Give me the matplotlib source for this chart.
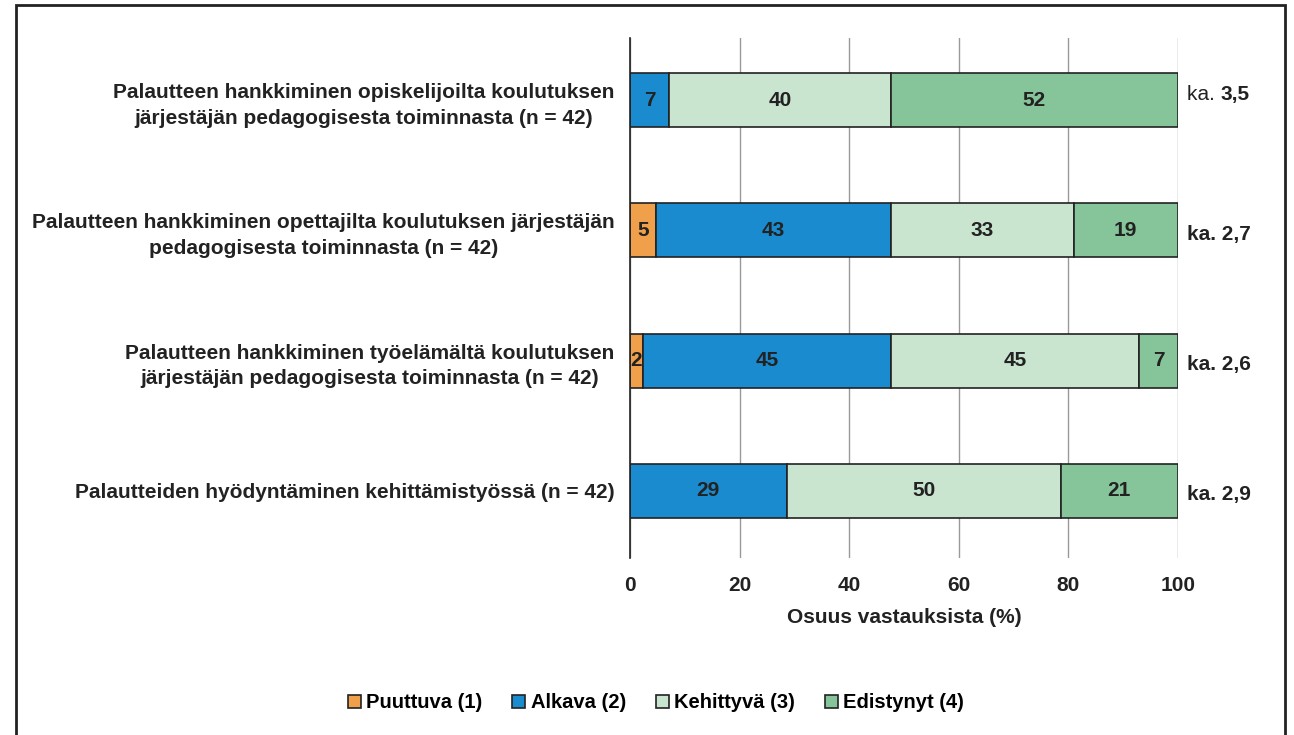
import matplotlib
matplotlib.use("Agg")
import matplotlib.pyplot as plt
from matplotlib.patches import Rectangle
import numpy as np

plt.rcParams['font.family'] = ['Liberation Sans', 'DejaVu Sans']

categories = [
    "Palautteen hankkiminen opiskelijoilta koulutuksen\njärjestäjän pedagogisesta toiminnasta (n = 42)",
    "Palautteen hankkiminen opettajilta koulutuksen järjestäjän\npedagogisesta toiminnasta (n = 42)",
    "Palautteen hankkiminen työelämältä koulutuksen\njärjestäjän pedagogisesta toiminnasta (n = 42)",
    "Palautteiden hyödyntäminen kehittämistyössä (n = 42)",
]
series_names = ["Puuttuva (1)", "Alkava (2)", "Kehittyvä (3)", "Edistynyt (4)"]
# shares in percent (n = 42)
puuttuva = [0.0, 4.76, 2.38, 0.0]
alkava = [7.14, 42.86, 45.24, 28.57]
kehittyva = [40.48, 33.33, 45.24, 50.0]
edistynyt = [52.38, 19.05, 7.14, 21.43]
means = ["3,5", "2,7", "2,6", "2,9"]
mean_bold_prefix = [False, True, True, True]

colors = ["#F0A04B", "#1A8BCF", "#C9E5CF", "#86C59A"]
fs = 15

fig = plt.figure(figsize=(12.94, 7.35), dpi=100)
ax = fig.add_axes([630 / 1294, 177 / 735, 548 / 1294, 520 / 735])

# outer frame
fig.patches.append(Rectangle((16 / 1294, -0.01), (1285 - 16) / 1294, 1 - 5 / 735 + 0.01,
                             transform=fig.transFigure, fill=False, edgecolor="#222222",
                             linewidth=2))

y = np.arange(len(categories))
left = np.zeros(len(categories))
for vals, name, col in zip([puuttuva, alkava, kehittyva, edistynyt], series_names, colors):
    vals = np.array(vals)
    ax.barh(y, vals, left=left, height=0.415, color=col, edgecolor="#222222",
            linewidth=1.2, label=name, zorder=3)
    for yi, l, v in zip(y, left, vals):
        if v > 0:
            ax.text(l + v / 2, yi, f"{v:.0f}", ha="center", va="center",
                    fontsize=fs, fontweight="bold", color="#222222", zorder=4)
    left += vals

for yi, m, b in zip(y, means, mean_bold_prefix):
    if b:
        ax.text(101.6, yi + 0.03, f"ka. {m}", ha="left", va="center", fontsize=fs,
                fontweight="bold", color="#222222", clip_on=False)
    else:
        t = ax.text(101.6, yi - 0.04, "ka. ", ha="left", va="center", fontsize=fs,
                    color="#222222", clip_on=False)
        ax.annotate(m, xycoords=t, xy=(1, 0.5), va="center", ha="left",
                    fontsize=fs, fontweight="bold", color="#222222")

ax.set_xlim(0, 100)
ax.set_ylim(3.515, -0.477)
ax.set_xticks([0, 20, 40, 60, 80, 100])
ax.set_yticks(y)
ax.set_yticklabels(categories, fontsize=fs, fontweight="bold", color="#222222",
                   ha="right", multialignment="center", linespacing=1.45)
ax.tick_params(axis="y", length=0, pad=11)
ax.tick_params(axis="x", length=0, pad=13, labelsize=fs, labelcolor="#222222")
for lbl in ax.get_xticklabels():
    lbl.set_fontweight("bold")
ax.grid(axis="x", color="#999999", linewidth=1, zorder=0)
for s in ["top", "right", "bottom"]:
    ax.spines[s].set_visible(False)
ax.spines["left"].set_color("#222222")
ax.spines["left"].set_linewidth(1.2)
ax.spines["left"].set_zorder(5)
ax.set_xlabel("Osuus vastauksista (%)", fontsize=fs, fontweight="bold",
              color="#222222", labelpad=9)

fig.legend(loc="center", bbox_to_anchor=(656 / 1294, 32 / 735), frameon=False,
           ncol=4, handlelength=0.65, handleheight=0.65, handletextpad=0.25,
           columnspacing=1.5, prop={"weight": "bold", "size": 14.5})

fig.savefig("out.png", dpi=100)
